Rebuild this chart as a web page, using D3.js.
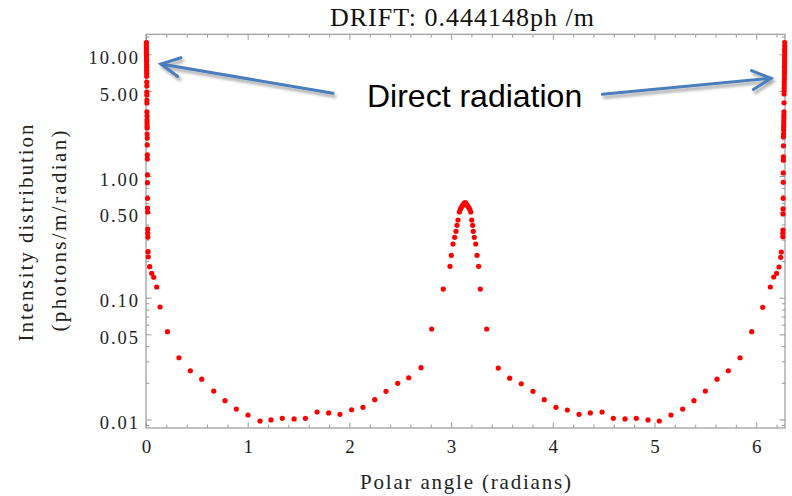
<!DOCTYPE html>
<html>
<head>
<meta charset="utf-8">
<script src="https://cdn.jsdelivr.net/npm/d3@7/dist/d3.min.js"></script>
<style>
  html, body { margin: 0; padding: 0; background: #fff; }
  svg { display: block; }
</style>
</head>
<body>
<svg id="chart" width="792" height="496"></svg>
<script>
// ---------------- DATA ----------------
const titleText = "DRIFT: 0.444148ph /m";
const xLabel = "Polar angle (radians)";
const yLabel1 = "Intensity distribution";
const yLabel2 = "(photons/m/radian)";

const xMajorTicks = [0, 1, 2, 3, 4, 5, 6];
const yMajorTicks = [0.01, 0.05, 0.1, 0.5, 1, 5, 10];
const yMajorLabels = ["0.01", "0.05", "0.10", "0.50", "1.00", "5.00", "10.00"];
const yMinorTicks = [0.009, 0.02, 0.03, 0.04, 0.06, 0.07, 0.08, 0.09,
                     0.2, 0.3, 0.4, 0.6, 0.7, 0.8, 0.9,
                     2, 3, 4, 6, 7, 8, 9, 11, 12, 13, 14];

// direct radiation column near 0
const directLeft = [
  [0.003,12.5],[0.003,11.9],[0.004,11.3],[0.004,10.7],[0.004,10.2],[0.005,9.7],
  [0.005,9.2],[0.005,8.7],[0.006,8.2],[0.006,7.8],[0.006,7.4],[0.007,7.0],
  [0.007,6.6],[0.007,5.92],[0.008,5.49],[0.008,4.90],[0.008,4.63],[0.009,4.21],
  [0.009,3.98],[0.009,3.36],[0.010,3.11],[0.010,2.88],[0.010,2.73],[0.011,2.58],
  [0.011,2.48],[0.011,2.21],[0.012,2.05],[0.012,1.80],[0.013,1.49],[0.013,1.38],
  [0.014,1.02],[0.014,0.881],[0.015,0.656],[0.015,0.546],[0.016,0.506],
  [0.017,0.367],[0.017,0.340],[0.018,0.315],[0.020,0.239],[0.022,0.217]
];
// tail from 0 to the central peak
const bodyLeft = [
  [0.036,0.1798],[0.056,0.1587],[0.076,0.1472],[0.105,0.1225],[0.138,0.0839],
  [0.211,0.0526],[0.324,0.0321],[0.436,0.0251],[0.548,0.0214],[0.666,0.0171],
  [0.777,0.01425],[0.888,0.01217],[1.003,0.01087],[1.121,0.0097],[1.229,0.0099],
  [1.340,0.0102],[1.456,0.0101],[1.567,0.0102],[1.682,0.0115],[1.796,0.0113],
  [1.907,0.0110],[2.022,0.0120],[2.133,0.01257],[2.249,0.01452],[2.360,0.0170],
  [2.475,0.0198],[2.583,0.0220],[2.704,0.0266],[2.809,0.0553]
];
// central peak around pi
const peak = [
  [2.923,0.1178],[2.989,0.1811],[3.002,0.2230],[3.019,0.2762],[3.035,0.3134],
  [3.048,0.3514],[3.058,0.3935],[3.068,0.4350],[3.081,0.506],[3.090,0.53],
  [3.097,0.546],[3.107,0.565],[3.117,0.578],[3.127,0.595],[3.137,0.604],
  [3.147,0.595],[3.156,0.578],[3.166,0.565],[3.176,0.546],[3.185,0.53],
  [3.193,0.506],[3.203,0.435],[3.212,0.3935],[3.218,0.3514],[3.228,0.3134],
  [3.242,0.2762],[3.255,0.2230],[3.271,0.1811],[3.287,0.1178]
];
// tail from the peak to 2*pi
const bodyRight = [
  [3.350,0.0553],[3.464,0.0264],[3.576,0.0218],[3.690,0.01964],[3.805,0.0170],
  [3.916,0.01452],[4.031,0.01257],[4.143,0.01195],[4.258,0.0110],[4.369,0.0113],
  [4.484,0.0115],[4.595,0.0102],[4.710,0.0101],[4.821,0.0102],[4.936,0.0099],
  [5.047,0.0097],[5.162,0.01087],[5.277,0.01217],[5.388,0.01425],[5.500,0.0171],
  [5.615,0.0214],[5.726,0.0251],[5.841,0.0321],[5.956,0.0526],[6.064,0.0834],
  [6.139,0.1225],[6.172,0.1479],[6.201,0.1587],[6.224,0.1787],[6.241,0.2148],
  [6.247,0.2374]
];
// direct radiation column near 2*pi
const directRight = [
  [6.262,0.317],[6.262,0.338],[6.263,0.360],[6.264,0.488],[6.264,0.536],
  [6.265,0.656],[6.266,0.887],[6.266,1.06],[6.267,1.35],[6.267,1.44],
  [6.268,1.77],[6.268,2.10],[6.269,2.21],[6.270,2.39],[6.270,2.53],
  [6.271,2.68],[6.271,2.83],[6.272,3.00],[6.272,3.17],[6.273,3.36],
  [6.274,3.99],[6.274,4.72],[6.275,4.99],[6.275,5.28],[6.276,5.59],
  [6.276,5.92],[6.277,6.27],[6.277,6.63],[6.278,7.02],[6.278,7.43],
  [6.278,7.86],[6.279,8.32],[6.279,8.81],[6.279,9.32],[6.280,9.87],
  [6.280,10.44],[6.280,11.05],[6.281,11.70],[6.281,12.5]
];

// annotation (data coordinates)
const annotationText = "Direct radiation";
const annotationAnchor = [2.173, 3.71];
const arrows = [
  { from: [1.839, 4.78], to: [0.147, 8.32] },
  { from: [4.487, 4.69], to: [6.146, 6.35] }
];

// ---------------- CHART ----------------
(function () {
const svg = d3.select("#chart");
const mLeft = 146, mRight = 785, mTop = 34.3, mBottom = 428;

const x = d3.scaleLinear().domain([0, 2 * Math.PI]).range([mLeft, mRight]);
const y = d3.scaleLog().domain([0.0085, 14.6]).range([mBottom, mTop]);

const frameColor = "#9a9a9a";
const serif = "'Liberation Serif', 'Times New Roman', serif";

const defs = svg.append("defs");
const f = defs.append("filter").attr("id", "shadow")
  .attr("x", "-20%").attr("y", "-50%").attr("width", "140%").attr("height", "200%");
f.append("feDropShadow").attr("dx", 2).attr("dy", 3).attr("stdDeviation", 1.6)
  .attr("flood-color", "#000").attr("flood-opacity", 0.35);

const xMinor = d3.range(0, 6.3, 0.2).filter(v => Math.abs(v - Math.round(v)) > 1e-6);

function styleAxis(g) {
  g.select(".domain").remove();
  g.selectAll(".tick line").attr("stroke", frameColor).attr("stroke-width", 1);
}

const majorLen = 5.5, minorLen = 3.3;

// bottom
svg.append("g").attr("transform", `translate(0,${mBottom})`)
  .call(d3.axisBottom(x).tickValues(xMajorTicks).tickSize(-majorLen).tickPadding(11.5)
    .tickFormat(d3.format("d")))
  .call(styleAxis)
  .call(g => g.selectAll("text").attr("font-family", serif).attr("font-size", 19)
    .attr("fill", "#222"));
svg.append("g").attr("transform", `translate(0,${mBottom})`)
  .call(d3.axisBottom(x).tickValues(xMinor).tickSize(-minorLen).tickFormat(""))
  .call(styleAxis);
// top
svg.append("g").attr("transform", `translate(0,${mTop})`)
  .call(d3.axisTop(x).tickValues(xMajorTicks).tickSize(-majorLen).tickFormat(""))
  .call(styleAxis);
svg.append("g").attr("transform", `translate(0,${mTop})`)
  .call(d3.axisTop(x).tickValues(xMinor).tickSize(-minorLen).tickFormat(""))
  .call(styleAxis);
// left
svg.append("g").attr("transform", `translate(${mLeft},0)`)
  .call(d3.axisLeft(y).tickValues(yMajorTicks).tickSize(-majorLen).tickPadding(6)
    .tickFormat((d, i) => yMajorLabels[i]))
  .call(styleAxis)
  .call(g => g.selectAll("text").attr("font-family", serif).attr("font-size", 18.5)
    .attr("letter-spacing", 2).attr("dy", "0.5em").attr("fill", "#222"));
svg.append("g").attr("transform", `translate(${mLeft},0)`)
  .call(d3.axisLeft(y).tickValues(yMinorTicks).tickSize(-minorLen).tickFormat(""))
  .call(styleAxis);
// right
svg.append("g").attr("transform", `translate(${mRight},0)`)
  .call(d3.axisRight(y).tickValues(yMajorTicks).tickSize(-majorLen).tickFormat(""))
  .call(styleAxis);
svg.append("g").attr("transform", `translate(${mRight},0)`)
  .call(d3.axisRight(y).tickValues(yMinorTicks).tickSize(-minorLen).tickFormat(""))
  .call(styleAxis);

// frame
svg.append("rect").attr("x", mLeft).attr("y", mTop)
  .attr("width", mRight - mLeft).attr("height", mBottom - mTop)
  .attr("fill", "none").attr("stroke", frameColor).attr("stroke-width", 1.2);

// points
const allPoints = [].concat(directLeft, bodyLeft, peak, bodyRight, directRight);
svg.append("g").selectAll("circle").data(allPoints).join("circle")
  .attr("cx", d => x(d[0])).attr("cy", d => y(d[1])).attr("r", 2.6)
  .attr("fill", "#ff0000");

// title
svg.append("text").attr("x", 462).attr("y", 25.5).attr("text-anchor", "middle")
  .attr("font-family", serif).attr("font-size", 26).attr("fill", "#111")
  .attr("textLength", 264).attr("lengthAdjust", "spacing")
  .text(titleText);

// x label
svg.append("text").attr("x", (mLeft + mRight) / 2).attr("y", 489).attr("text-anchor", "middle")
  .attr("font-family", serif).attr("font-size", 21).attr("fill", "#222")
  .attr("textLength", 211).attr("lengthAdjust", "spacing")
  .text(xLabel);

// y label, two lines
svg.append("text").attr("transform", `translate(33,233) rotate(-90)`)
  .attr("text-anchor", "middle").attr("font-family", serif).attr("font-size", 21)
  .attr("fill", "#222").attr("textLength", 217).attr("lengthAdjust", "spacing")
  .text(yLabel1);
svg.append("text").attr("transform", `translate(66,231) rotate(-90)`)
  .attr("text-anchor", "middle").attr("font-family", serif).attr("font-size", 21)
  .attr("fill", "#222").attr("textLength", 201).attr("lengthAdjust", "spacing")
  .text(yLabel2);

// annotation
svg.append("text").attr("x", x(annotationAnchor[0])).attr("y", y(annotationAnchor[1]))
  .attr("font-family", "'Liberation Sans', Arial, sans-serif").attr("font-size", 32)
  .attr("fill", "#000").text(annotationText);

const arrowColor = "#4a7ebb";
const ag = svg.append("g").attr("filter", "url(#shadow)");
arrows.forEach(a => {
  const x1 = x(a.from[0]), y1 = y(a.from[1]);
  const x2 = x(a.to[0]), y2 = y(a.to[1]);
  const ang = Math.atan2(y1 - y2, x1 - x2);
  const L = 21, spread = 27 * Math.PI / 180;
  const p1 = [x2 + L * Math.cos(ang - spread), y2 + L * Math.sin(ang - spread)];
  const p2 = [x2 + L * Math.cos(ang + spread), y2 + L * Math.sin(ang + spread)];
  const line = d3.line();
  ag.append("path").attr("d", line([[x1, y1], [x2, y2]]))
    .attr("stroke", arrowColor).attr("stroke-width", 3).attr("fill", "none")
    .attr("stroke-linecap", "round");
  ag.append("path").attr("d", line([p1, [x2, y2], p2]))
    .attr("stroke", arrowColor).attr("stroke-width", 3).attr("fill", "none")
    .attr("stroke-linecap", "round").attr("stroke-linejoin", "miter");
});
})();
</script>
</body>
</html>
